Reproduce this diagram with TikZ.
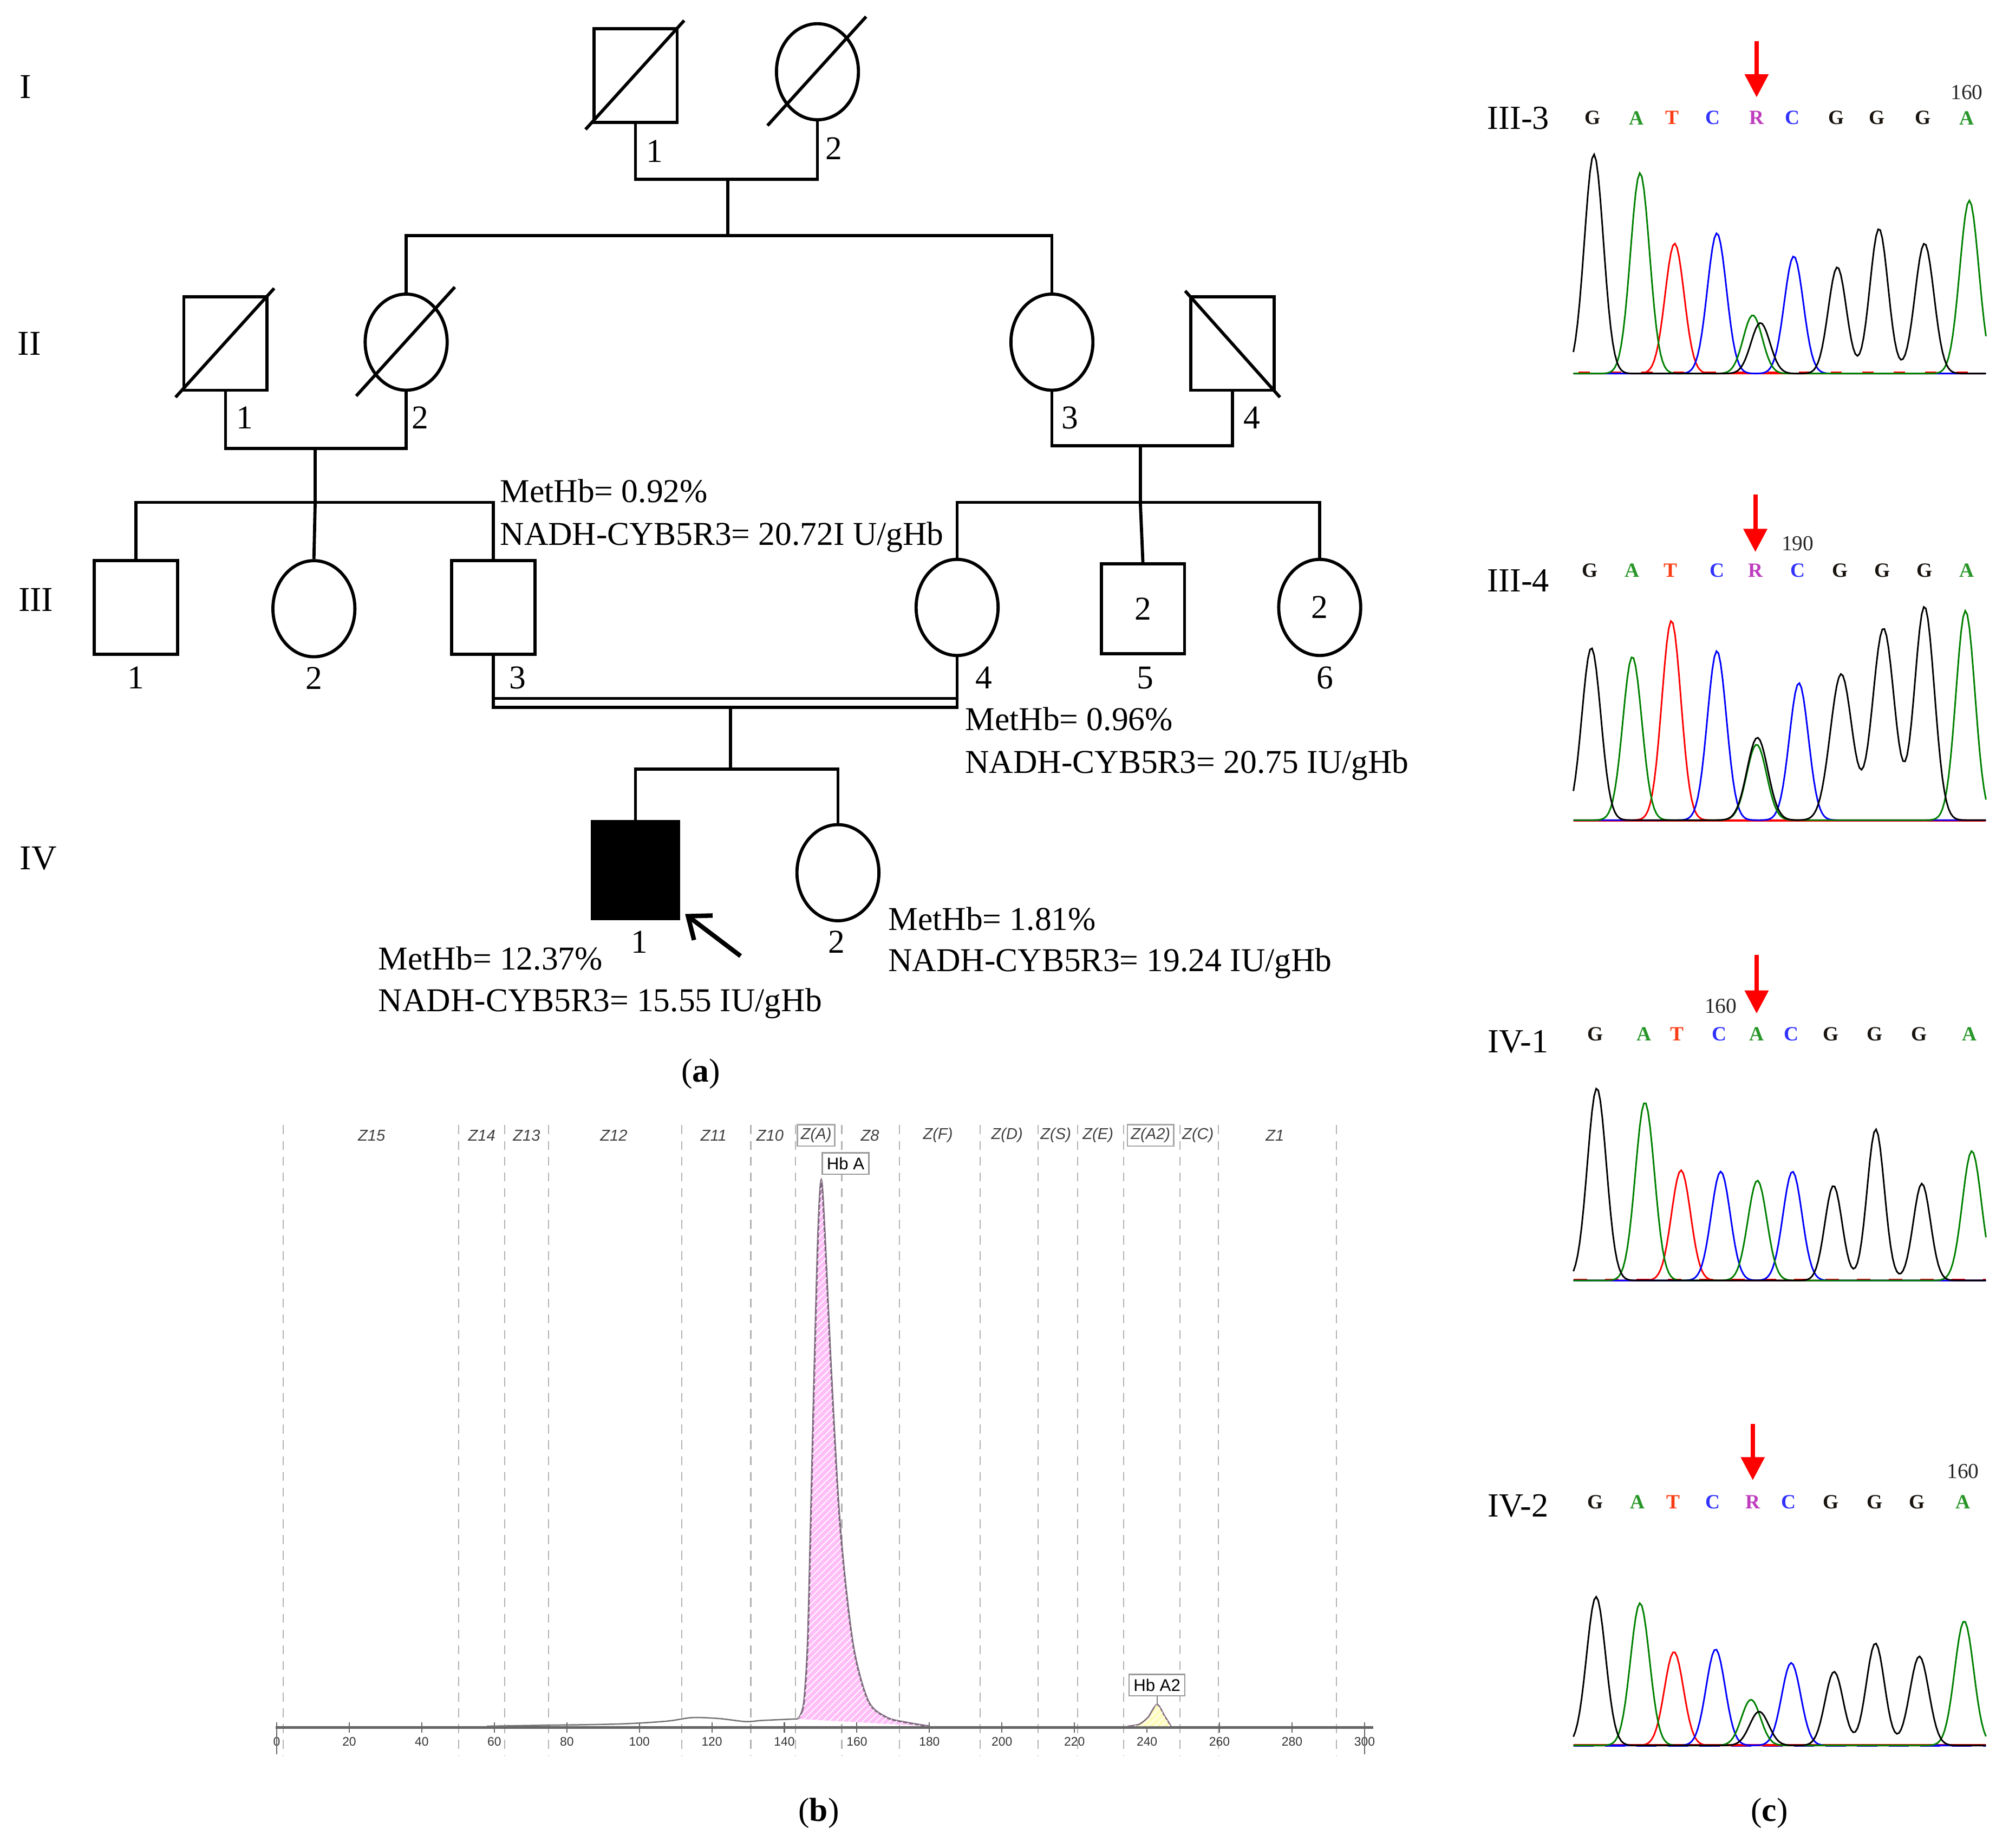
\documentclass[tikz,border=0pt]{standalone}
\usepackage{fontspec}
\setmainfont{Liberation Serif}
\setsansfont{Liberation Sans}
\usepackage{xcolor}
\usepackage{tikz}
\usetikzlibrary{shapes.geometric,arrows.meta,patterns}

\definecolor{baseG}{RGB}{25,20,15}
\definecolor{baseA}{RGB}{40,150,40}
\definecolor{baseT}{RGB}{250,60,20}
\definecolor{baseC}{RGB}{50,50,255}
\definecolor{baseR}{RGB}{190,60,190}
\definecolor{hbpink}{RGB}{255,190,248}
\definecolor{hbyellow}{RGB}{255,252,190}
\definecolor{peakedge}{RGB}{125,105,125}
\definecolor{trgreen}{RGB}{0,128,0}

\begin{document}
\begin{tikzpicture}[x=0.02cm, y=-0.02cm,
  declare function={pk(\xx,\cc,\hh,\ww)=\hh*exp(-min(((\xx-\cc)/\ww)*((\xx-\cc)/\ww),20));}]
			\tikzstyle{male}=[draw, rectangle, line width=1.4pt, minimum width=1.3cm, minimum height=1.46cm, inner sep=0pt, font=\fontsize{14.8}{17}\selectfont]
			\tikzstyle{female}=[draw, ellipse, line width=1.4pt, minimum width=1.28cm, minimum height=1.5cm, inner sep=0pt, font=\fontsize{14.8}{17}\selectfont]
			\tikzstyle{affected}=[male, fill=black, minimum width=1.34cm, minimum height=1.52cm]
			\tikzstyle{num}=[inner sep=0pt, font=\fontsize{14.8}{17}\selectfont]
			\tikzstyle{gen}=[inner sep=0pt, font=\fontsize{15.5}{17}\selectfont]
			\tikzstyle{note}=[anchor=west, inner sep=0pt, font=\fontsize{14.8}{17}\selectfont]
			\tikzstyle{caption}=[inner sep=0pt, font=\fontsize{14.8}{17}\selectfont]
			\tikzstyle{zone}=[inner sep=1.5pt, text=black!75, font=\sffamily\itshape\fontsize{7}{8}\selectfont]
			\tikzstyle{zonebox}=[draw=black!35, line width=0.6pt]
			\tikzstyle{ticklabel}=[inner sep=0pt, text=black!80, font=\sffamily\fontsize{5.5}{6}\selectfont]
			\tikzstyle{peaklabel}=[draw=black!40, fill=white, line width=0.6pt, inner sep=2pt, font=\sffamily\fontsize{7.5}{8}\selectfont]
			\tikzstyle{sample}=[inner sep=0pt, font=\fontsize{15}{17}\selectfont]
			\tikzstyle{seqbase}=[inner sep=0pt, font=\fontsize{9}{10}\selectfont\bfseries]
			\tikzstyle{seqpos}=[inner sep=0pt, text=black!85, font=\fontsize{9.5}{10}\selectfont]
			\tikzset{pedline/.style = {line width=1.4pt},
				proband/.style = {line width=2pt, -{Straight Barb[length=0.3cm, width=0.48cm]}},
				mutarrow/.style = {red, line width=1.9pt, -{Triangle[length=0.36cm, width=0.36cm]}},
				zoneline/.style = {black!30, line width=0.5pt, dash pattern=on 4pt off 3pt},
				hbtrace/.style = {black!55, line width=0.6pt},
				chblack/.style = {black, line width=0.7pt},
				chgreen/.style = {trgreen, line width=0.7pt},
				chred/.style = {red, line width=0.7pt},
				chblue/.style = {blue, line width=0.7pt}}
			\useasboundingbox (0,0) rectangle (1568,1442);
			
			% (a) pedigree
			\node[gen](genI) at (20,68) {I};
			\node[gen](genII) at (23,268) {II};
			\node[gen](genIII) at (28,468) {III};
			\node[gen](genIV) at (30,670) {IV};
			
			\node[male](I1) at (496,59) {};
			\node[female](I2) at (638,56) {};
			\node[num](nI1) at (511,118) {1};
			\node[num](nI2) at (651,116) {2};
			
			\node[male](II1) at (176,268) {};
			\node[female](II2) at (317,267) {};
			\node[female](II3) at (821,267) {};
			\node[male](II4) at (962,268) {};
			\node[num](nII1) at (191,326) {1};
			\node[num](nII2) at (328,326) {2};
			\node[num](nII3) at (835,326) {3};
			\node[num](nII4) at (977,326) {4};
			
			\node[male](III1) at (106,474) {};
			\node[female](III2) at (245,475) {};
			\node[male](III3) at (385,474) {};
			\node[female](III4) at (747,474) {};
			\node[male, minimum height=1.4cm](III5) at (892,475) {2};
			\node[female](III6) at (1030,474) {2};
			\node[num](nIII1) at (106,529) {1};
			\node[num](nIII2) at (245,529) {2};
			\node[num](nIII3) at (404,529) {3};
			\node[num](nIII4) at (768,529) {4};
			\node[num](nIII5) at (894,529) {5};
			\node[num](nIII6) at (1034,529) {6};
			
			\node[affected](IV1) at (496,679) {};
			\node[female](IV2) at (654,681) {};
			\node[num](nIV1) at (499,735) {1};
			\node[num](nIV2) at (653,735) {2};
			
			\foreach \n in {I1,I2,II1,II2}
				\draw[pedline] ([shift={(-39,42)}]\n.center) -- ([shift={(38,-43)}]\n.center);
			\draw[pedline] ([shift={(-37,-41)}]II4.center) -- ([shift={(37,42)}]II4.center);
			
			\coordinate (mI) at (568,140);
			\coordinate (sI) at (568,184);
			\draw[pedline] (I1.south) |- (mI) -| (I2.south);
			\draw[pedline] (mI) -- (sI);
			\draw[pedline] (II2.north) |- (sI) -| (II3.north);
			
			\coordinate (mIIa) at (246,350);
			\coordinate (sIIa) at (246,392);
			\draw[pedline] (II1.south) |- (mIIa) -| (II2.south);
			\draw[pedline] (mIIa) -- (sIIa);
			\draw[pedline] (III1.north) |- (sIIa) -| (III3.north);
			\draw[pedline] (sIIa) -- (III2.north);
			
			\coordinate (mIIb) at (890,348);
			\coordinate (sIIb) at (890,392);
			\draw[pedline] (II3.south) |- (mIIb) -| (II4.south);
			\draw[pedline] (mIIb) -- (sIIb);
			\draw[pedline] (III4.north) |- (sIIb) -| (III6.north);
			\draw[pedline] (sIIb) -- (III5.north);
			
			\coordinate (mIII) at (570,552);
			\coordinate (mIIIb) at (570,545);
			\coordinate (sIII) at (570,600);
			\draw[pedline] (III3.south) |- (mIII) -| (III4.south);
			\draw[pedline] (III3.south |- mIIIb) -- (III4.south |- mIIIb);
			\draw[pedline] (mIII) -- (sIII);
			\draw[pedline] (IV1.north) |- (sIII) -| (IV2.north);
			
			\coordinate (pb) at (578,746);
			\draw[proband] (pb) -- ([shift={(4,-5)}]IV1.south east);
			
			\node[note](tIII3a) at (390,383) {MetHb= 0.92\%};
			\node[note](tIII3b) at (390,419) {NADH-CYB5R3= 20.72I U/gHb};
			\node[note](tIII4a) at (753,561) {MetHb= 0.96\%};
			\node[note](tIII4b) at (753,597) {NADH-CYB5R3= 20.75 IU/gHb};
			\node[note](tIV1a) at (295,748) {MetHb= 12.37\%};
			\node[note](tIV1b) at (295,783) {NADH-CYB5R3= 15.55 IU/gHb};
			\node[note](tIV2a) at (693,717) {MetHb= 1.81\%};
			\node[note](tIV2b) at (693,752) {NADH-CYB5R3= 19.24 IU/gHb};
			
			\node[caption](capa) at (547,838) {(\textbf{a})};
			
			% (b) electrophoresis
			\foreach \x in {221,358,394,428,532,586,621,657,702,765,810,841,877,921,951,1043}
				\draw[zoneline] (\x,878) -- (\x,1370);
			\foreach \x/\z [count=\i] in {290/Z15, 376/Z14, 411/Z13, 479/Z12, 557/Z11, 601/Z10, 679/Z8, 732/Z(F), 786/Z(D), 824/Z(S), 857/Z(E), 935/Z(C), 995/Z1}
				\node[zone](zone\i) at (\x,886) {\z};
			\node[zone, zonebox](zoneA) at (637,886) {Z(A)};
			\node[zone, zonebox](zoneAii) at (898,886) {Z(A2)};
			
			\draw[black!60, line width=1.4pt] (215,1348) -- (1072,1348);
			\foreach \v in {0,20,...,300} {
				\draw[black!60, line width=0.5pt] ({216+2.83*\v},1344) -- ({216+2.83*\v},1352);
				\node[ticklabel](tick\v) at ({216+2.83*\v},1359) {\v};
			}
			\draw[black!60, line width=0.5pt] (216,1352) -- (216,1369);
			\draw[black!60, line width=0.5pt] (1065,1352) -- (1065,1369);
			
			\draw[hbtrace] plot[smooth] coordinates {(380,1347) (409,1346.5) (482,1345.3) (520,1343.1) (540,1340.3) (561,1341) (582,1343.4) (595,1342.5) (622,1341.3)};
			\draw[peakedge, line width=0.8pt, fill=hbpink, postaction={pattern=north east lines, pattern color=white}]
				plot[smooth, tension=0.5] coordinates {(622,1341.3) (624.5,1339) (627.6,1327) (630.4,1282) (632.7,1191) (635.6,1069) (638.6,960) (641,921) (643.6,960) (648.7,1069) (655.7,1191) (665.6,1282) (677.5,1327) (691.7,1340) (707,1344) (725,1347)};
			\draw[peakedge, line width=0.6pt, fill=hbyellow, postaction={pattern=north east lines, pattern color=white}]
				plot[smooth, tension=0.5] coordinates {(880,1347) (889,1345.5) (896,1340) (903,1330) (909,1339) (914,1347)};
			\node[peaklabel](hba) at (660,908) {Hb A};
			\node[peaklabel](hbaii) at (903,1315) {Hb A2};
			\coordinate (aiitop) at (903,1330);
			\draw[black!50, line width=0.5pt] (hbaii) -- (aiitop);
			
			\node[caption](capb) at (639,1415) {(\textbf{b})};
			
			% (c) sequencing
			\node[sample](sIII3) at (1185,92) {III-3};
			\node[sample](sIII4) at (1185,453) {III-4};
			\node[sample](sIV1) at (1185,813) {IV-1};
			\node[sample](sIV2) at (1185,1175) {IV-2};
			
			\foreach \x/\b [count=\i] in {1243/G, 1277/A, 1305/T, 1337/C, 1371/R, 1399/C, 1433/G, 1465/G, 1501/G, 1535/A}
				\node[seqbase](pa\i) at (\x,92) {\textcolor{base\b}{\b}};
			\foreach \x/\b [count=\i] in {1241/G, 1274/A, 1304/T, 1340/C, 1370/R, 1403/C, 1436/G, 1469/G, 1502/G, 1535/A}
				\node[seqbase](pb\i) at (\x,445) {\textcolor{base\b}{\b}};
			\foreach \x/\b [count=\i] in {1245/G, 1283/A, 1309/T, 1342/C, 1371/A, 1398/C, 1429/G, 1463/G, 1498/G, 1537/A}
				\node[seqbase](pc\i) at (\x,807) {\textcolor{base\b}{\b}};
			\foreach \x/\b [count=\i] in {1245/G, 1278/A, 1306/T, 1337/C, 1368/R, 1396/C, 1429/G, 1463/G, 1496/G, 1532/A}
				\node[seqbase](pd\i) at (\x,1172) {\textcolor{base\b}{\b}};
			
			\node[seqpos](posa) at (1535,72) {160};
			\node[seqpos](posb) at (1403,424) {190};
			\node[seqpos](posc) at (1343,785) {160};
			\node[seqpos](posd) at (1532,1148) {160};
			
			\coordinate (arra) at (1371,32);
			\coordinate (arrb) at (1370,386);
			\coordinate (arrc) at (1371,745);
			\coordinate (arrd) at (1368,1111);
			\draw[mutarrow] (arra) -- ([yshift=6pt]pa5.north);
			\draw[mutarrow] (arrb) -- ([yshift=5pt]pb5.north);
			\draw[mutarrow] (arrc) -- ([yshift=6pt]pc5.north);
			\draw[mutarrow] (arrd) -- ([yshift=6.5pt]pd5.north);
			
			% III-3 trace
			\draw[blue, line width=0.7pt] (1228,291.5) -- (1550,291.5);
			\draw[red, line width=0.7pt, dash pattern=on 5pt off 9pt] (1232,290.5) -- (1550,290.5);
			\draw[chred] plot[domain=1228:1550, samples=200] (\x,{291.5-pk(\x,1307,101.5,10.5)});
			\draw[chblue] plot[domain=1228:1550, samples=200] (\x,{291.5-pk(\x,1340,109.5,10.5)-pk(\x,1400,91.5,10.5)});
			\draw[chgreen] plot[domain=1228:1550, samples=200] (\x,{291.5-pk(\x,1280,156.5,10.5)-pk(\x,1368,45.5,10.5)-pk(\x,1537,135,10.5)});
			\draw[chblack] plot[domain=1228:1550, samples=200] (\x,{291.5-pk(\x,1244,171,10.5)-pk(\x,1374,39.5,10.5)-pk(\x,1434,83,10)-pk(\x,1466.5,113,10)-pk(\x,1502,101.5,10.5)});
			
			% III-4 trace
			\draw[blue, line width=0.7pt] (1228,640) -- (1550,640);
			\draw[red, line width=0.7pt] (1228,640.5) -- (1550,640.5);
			\draw[chred] plot[domain=1228:1550, samples=200] (\x,{640-pk(\x,1304.5,155.6,10.5)});
			\draw[chblue] plot[domain=1228:1550, samples=200] (\x,{640-pk(\x,1340,132,10.5)-pk(\x,1404,107,10.5)});
			\draw[chgreen] plot[domain=1228:1550, samples=200] (\x,{640-pk(\x,1274,127.5,10.5)-pk(\x,1371,59,11)-pk(\x,1534,163.4,10.5)});
			\draw[chblack] plot[domain=1228:1550, samples=200] (\x,{640-pk(\x,1242,134.4,10.5)-pk(\x,1371.6,64.4,11.5)-pk(\x,1437,114,12)-pk(\x,1470,149.6,12)-pk(\x,1502,166.6,11)});
			
			% IV-1 trace
			\draw[red, line width=0.7pt, dash pattern=on 6pt off 8pt] (1228,998.5) -- (1550,998.5);
			\draw[blue, line width=0.7pt] (1228,999.5) -- (1550,999.5);
			\draw[chred] plot[domain=1228:1550, samples=200] (\x,{999.2-pk(\x,1312,86,10.5)});
			\draw[chblue] plot[domain=1228:1550, samples=200] (\x,{999.2-pk(\x,1343,85,10.5)-pk(\x,1399,85,10.5)});
			\draw[chgreen] plot[domain=1228:1550, samples=200] (\x,{999.2-pk(\x,1283.8,139,10.5)-pk(\x,1371.6,78,10.5)-pk(\x,1539,101,10.5)});
			\draw[chblack] plot[domain=1228:1550, samples=200] (\x,{999.2-pk(\x,1246.3,150,10.5)-pk(\x,1431,74,9.5)-pk(\x,1464,118,9.5)-pk(\x,1500,75.6,9.5)});
			
			% IV-2 trace
			\draw[red, line width=0.7pt] (1228,1361.5) -- (1550,1361.5);
			\draw[blue, line width=0.7pt, dash pattern=on 9pt off 5pt] (1228,1362.5) -- (1550,1362.5);
			\draw[chred] plot[domain=1228:1550, samples=200] (\x,{1362-pk(\x,1306.5,73,10.5)});
			\draw[chblue] plot[domain=1228:1550, samples=200] (\x,{1362-pk(\x,1339,75,10.5)-pk(\x,1398,64.4,10.5)});
			\draw[chgreen] plot[domain=1228:1550, samples=200] (\x,{1362-pk(\x,1280,111,10.5)-pk(\x,1366.6,35.7,10.5)-pk(\x,1533,97,10.5)});
			\draw[chblack] plot[domain=1228:1550, samples=200] (\x,{1362-pk(\x,1245.7,116,10.5)-pk(\x,1373,26.4,10.5)-pk(\x,1431.5,57.5,10)-pk(\x,1463.7,79.7,10)-pk(\x,1498,69.5,10.5)});
			
			\node[caption](capc) at (1381,1415) {(\textbf{c})};
			
			\end{tikzpicture}
\end{document}
